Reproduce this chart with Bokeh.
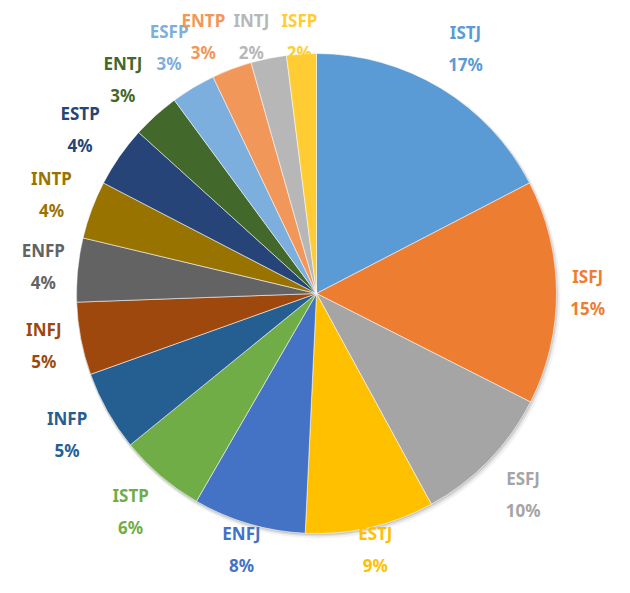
import numpy as np
from bokeh.plotting import figure
from bokeh.models import Range1d, ColumnDataSource
from bokeh.core.properties import value
from bokeh.embed import file_html
from bokeh.resources import INLINE

types = ["ISTJ", "ISFJ", "ESFJ", "ESTJ", "ENFJ", "ISTP", "INFP", "INFJ",
         "ENFP", "INTP", "ESTP", "ENTJ", "ESFP", "ENTP", "INTJ", "ISFP"]
shares = [17.4, 15.1, 9.6, 8.7, 7.6, 5.8, 5.4, 4.9,
          4.3, 3.9, 4.1, 3.2, 3.0, 2.7, 2.4, 2.0]
colors = ["#5B9BD5", "#ED7D31", "#A5A5A5", "#FFC000", "#4472C4", "#70AD47",
          "#255E91", "#9E480E", "#636363", "#997300", "#264478", "#43682B",
          "#7CAFDD", "#F1975A", "#B7B7B7", "#FFCD33"]

W, H = 614, 577
TOP = 593
p = figure(width=W, height=H, x_range=Range1d(0, W), y_range=Range1d(TOP - H, TOP),
           output_backend="svg", toolbar_location=None, x_axis_type=None, y_axis_type=None,
           min_border=0, min_border_left=0, min_border_right=0, min_border_top=0,
           min_border_bottom=0)
p.outline_line_color = None
p.grid.visible = False
p.background_fill_color = "white"
p.border_fill_color = "white"

cx, cy, R = 316.0, 300.0, 240.0

vals = np.array(shares, dtype=float)
frac = vals / vals.sum()
cum = np.concatenate([[0.0], np.cumsum(frac)])
start = np.pi / 2 - 2 * np.pi * cum[:-1]
end = np.pi / 2 - 2 * np.pi * cum[1:]
mid = (start + end) / 2

# soft shadow
for dx, dy, dr, a in [(2, -3, 2, 0.05), (1, -2, 1, 0.08), (0.5, -1, 0.5, 0.10)]:
    p.circle(x=[cx + dx], y=[cy + dy], radius=R + dr, fill_color="black",
             fill_alpha=a, line_color=None)

src = ColumnDataSource(dict(start=start, end=end, color=colors))
p.wedge(x=cx, y=cy, radius=R, start_angle="start", end_angle="end", direction="clock",
        fill_color="color", line_color="white", line_width=0.8, line_alpha=0.7, source=src)

# outside-end label placement
s = np.sin(mid)
r_lab = 271 + 18 * np.abs(np.sin(2 * mid)) - 20 * np.clip(-s, 0, 1) ** 8
lx = cx + r_lab * np.cos(mid)
ly = cy + r_lab * np.sin(mid)
top_limit = TOP - 36
clamped = ly > top_limit
ly = np.minimum(ly, top_limit)
# spread clamped labels at the top so they do not overlap
n = len(types)
for i in range(n - 2, -1, -1):
    if clamped[i] and clamped[i + 1]:
        lx[i] = min(lx[i], lx[i + 1] - 48)

pcts = [f"{int(round(f * 100))}%" for f in frac]
lsrc = ColumnDataSource(dict(x=lx, y1=ly + 16, y2=ly - 16, name=types, pct=pcts, color=colors))
common = dict(text_align="center", text_baseline="middle", text_font=value("Noto Sans"),
              text_font_size="17px", text_font_style="bold", text_color="color", source=lsrc)
p.text(x="x", y="y1", text="name", **common)
p.text(x="x", y="y2", text="pct", **common)

open("out.html", "w").write(file_html(p, INLINE))
